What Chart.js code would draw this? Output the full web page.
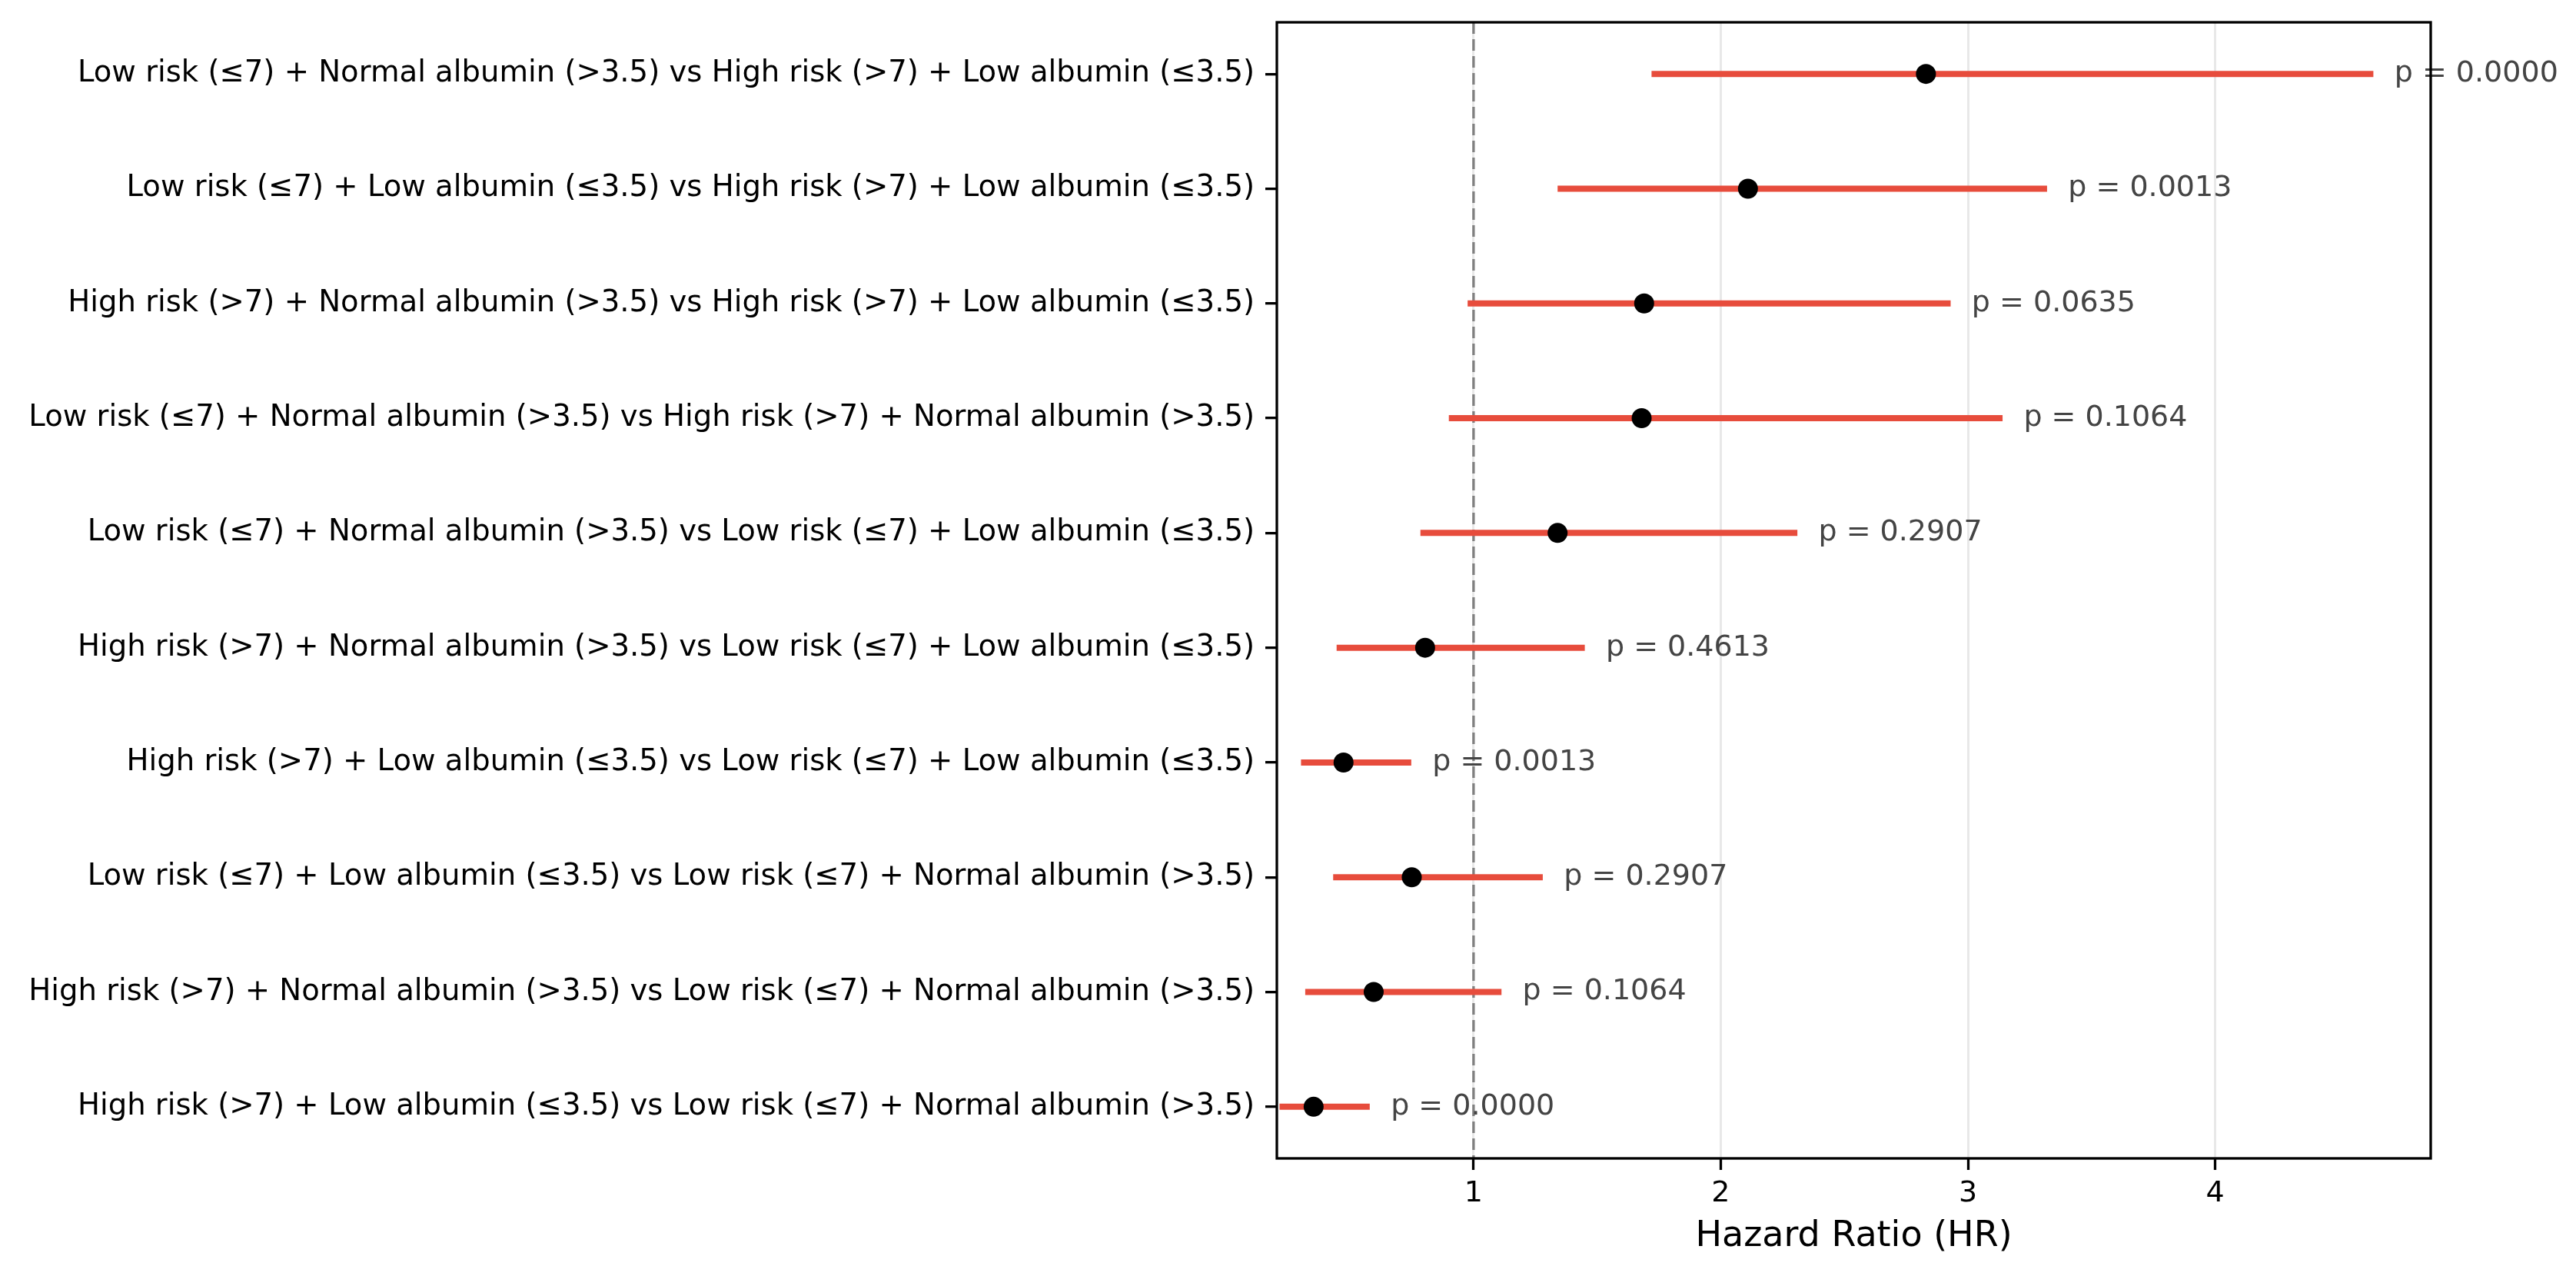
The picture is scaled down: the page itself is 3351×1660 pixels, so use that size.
<!DOCTYPE html>
<html>
<head>
<meta charset="utf-8">
<title>Hazard ratio forest plot</title>
<script src="https://cdn.jsdelivr.net/npm/chart.js@4.4.1/dist/chart.umd.min.js"></script>
<style>
  html, body { margin: 0; padding: 0; background: #fff; }
  #wrap { width: 3351px; height: 1660px; position: relative; }
</style>
</head>
<body>
<div id="wrap"><canvas id="forest"></canvas></div>
<script>
// =====================
// Data
// =====================
const comparisons = [
    "Low risk (≤7) + Normal albumin (>3.5) vs High risk (>7) + Low albumin (≤3.5)",
    "Low risk (≤7) + Low albumin (≤3.5) vs High risk (>7) + Low albumin (≤3.5)",
    "High risk (>7) + Normal albumin (>3.5) vs High risk (>7) + Low albumin (≤3.5)",
    "Low risk (≤7) + Normal albumin (>3.5) vs High risk (>7) + Normal albumin (>3.5)",
    "Low risk (≤7) + Normal albumin (>3.5) vs Low risk (≤7) + Low albumin (≤3.5)",
    "High risk (>7) + Normal albumin (>3.5) vs Low risk (≤7) + Low albumin (≤3.5)",
    "High risk (>7) + Low albumin (≤3.5) vs Low risk (≤7) + Low albumin (≤3.5)",
    "Low risk (≤7) + Low albumin (≤3.5) vs Low risk (≤7) + Normal albumin (>3.5)",
    "High risk (>7) + Normal albumin (>3.5) vs Low risk (≤7) + Normal albumin (>3.5)",
    "High risk (>7) + Low albumin (≤3.5) vs Low risk (≤7) + Normal albumin (>3.5)"
];
const hazardRatios = [2.83, 2.11, 1.69, 1.68, 1.34, 0.804, 0.474, 0.75, 0.596, 0.353];
const ciLower = [1.72, 1.34, 0.976, 0.90, 0.785, 0.446, 0.302, 0.432, 0.319, 0.215];
const ciUpper = [4.64, 3.32, 2.93, 3.14, 2.31, 1.45, 0.748, 1.28, 1.113, 0.58];
const pValues = ["0.0000", "0.0013", "0.0635", "0.1064", "0.2907", "0.4613", "0.0013", "0.2907", "0.1064", "0.0000"];
const xTicks = [1, 2, 3, 4];
const refHR = 1;

// =====================
// Styling constants
// =====================
const RED = "#e74c3c";
const YLABEL_PX = 38.6;
const TEXT_PX = 38;
const LABEL_PX = 46;
const SPINE_W = 3.3;

// axis limits like the original figure: 5% beyond the CI range
const xMin = Math.min(...ciLower) * 0.95;
const xMax = Math.max(...ciUpper) * 1.05;
const yMin = -0.45;
const yMax = comparisons.length - 1 + 0.45;

Chart.defaults.font.family = "'DejaVu Sans', 'Liberation Sans', sans-serif";
Chart.defaults.color = "#000";

// =====================
// Datasets
// =====================
function buildDatasets() {
    const sets = [];

    // hazard ratio points on top
    sets.push({
        type: "scatter",
        label: "HR",
        data: hazardRatios.map((hr, i) => ({ x: hr, y: i })),
        pointRadius: 13,
        pointHoverRadius: 13,
        pointBackgroundColor: "#000",
        pointBorderWidth: 0,
        order: 0
    });

    // confidence interval lines
    ciLower.forEach((lo, i) => {
        sets.push({
            type: "line",
            label: "CI " + i,
            data: [{ x: lo, y: i }, { x: ciUpper[i], y: i }],
            borderColor: RED,
            borderWidth: 8,
            pointRadius: 0,
            order: 1
        });
    });

    // reference line at HR = 1
    sets.push({
        type: "line",
        label: "ref",
        data: [{ x: refHR, y: yMin }, { x: refHR, y: yMax }],
        borderColor: "#808080",
        borderWidth: 3.3,
        borderDash: [15, 7],
        pointRadius: 0,
        order: 2
    });

    return sets;
}

// =====================
// Plugins
// =====================
const pLabelPlugin = {
    id: "pLabels",
    afterDatasetsDraw(chart) {
        const { ctx, scales } = chart;
        ctx.save();
        ctx.font = TEXT_PX + "px 'DejaVu Sans', sans-serif";
        ctx.fillStyle = "#444444";
        ctx.textAlign = "left";
        ctx.textBaseline = "middle";
        pValues.forEach((p, i) => {
            const x = scales.x.getPixelForValue(ciUpper[i] + 0.085);
            const y = scales.y.getPixelForValue(i);
            ctx.fillText("p = " + p, x, y);
        });
        ctx.restore();
    }
};

const framePlugin = {
    id: "frame",
    afterDatasetsDraw(chart) {
        const { ctx, chartArea: a } = chart;
        ctx.save();
        ctx.strokeStyle = "#000";
        ctx.lineWidth = SPINE_W;
        ctx.strokeRect(a.left, a.top, a.right - a.left, a.bottom - a.top);
        ctx.restore();
    }
};

// =====================
// Chart
// =====================
function renderForest() {
    const ctx = document.getElementById("forest").getContext("2d");

    new Chart(ctx, {
        data: { datasets: buildDatasets() },
        options: {
            responsive: true,
            maintainAspectRatio: false,
            animation: false,
            layout: { padding: { top: 29, right: 189, bottom: 0, left: 0 } },
            plugins: {
                legend: { display: false },
                tooltip: { enabled: false }
            },
            scales: {
                x: {
                    type: "linear",
                    min: xMin,
                    max: xMax,
                    afterBuildTicks: axis => { axis.ticks = xTicks.map(v => ({ value: v })); },
                    afterFit: axis => { axis.height = 153; },
                    grid: {
                        color: "rgba(0,0,0,0.09)",
                        lineWidth: 3,
                        tickColor: "#000",
                        tickWidth: SPINE_W,
                        tickLength: 15
                    },
                    border: { display: false },
                    ticks: {
                        font: { size: TEXT_PX },
                        color: "#000",
                        padding: 8,
                        maxRotation: 0,
                        callback: v => String(v)
                    },
                    title: {
                        display: true,
                        text: "Hazard Ratio (HR)",
                        font: { size: LABEL_PX },
                        color: "#000",
                        padding: { top: 4, bottom: 23 }
                    }
                },
                y: {
                    type: "linear",
                    reverse: true,
                    min: yMin,
                    max: yMax,
                    afterBuildTicks: axis => { axis.ticks = comparisons.map((_, i) => ({ value: i })); },
                    afterFit: axis => {
                        axis.width = 1661;
                        // rows sit well inside the axis, no label overhang to reserve
                        axis.paddingTop = 0;
                        axis.paddingBottom = 0;
                    },
                    grid: {
                        drawOnChartArea: false,
                        color: "#000",
                        tickColor: "#000",
                        tickWidth: SPINE_W,
                        lineWidth: SPINE_W,
                        tickLength: 15
                    },
                    border: { display: false },
                    ticks: {
                        font: { size: YLABEL_PX },
                        color: "#000",
                        padding: 14,
                        autoSkip: false,
                        callback: v => comparisons[v]
                    }
                }
            }
        },
        plugins: [pLabelPlugin, framePlugin]
    });
}

document.addEventListener("DOMContentLoaded", renderForest);
</script>
</body>
</html>
